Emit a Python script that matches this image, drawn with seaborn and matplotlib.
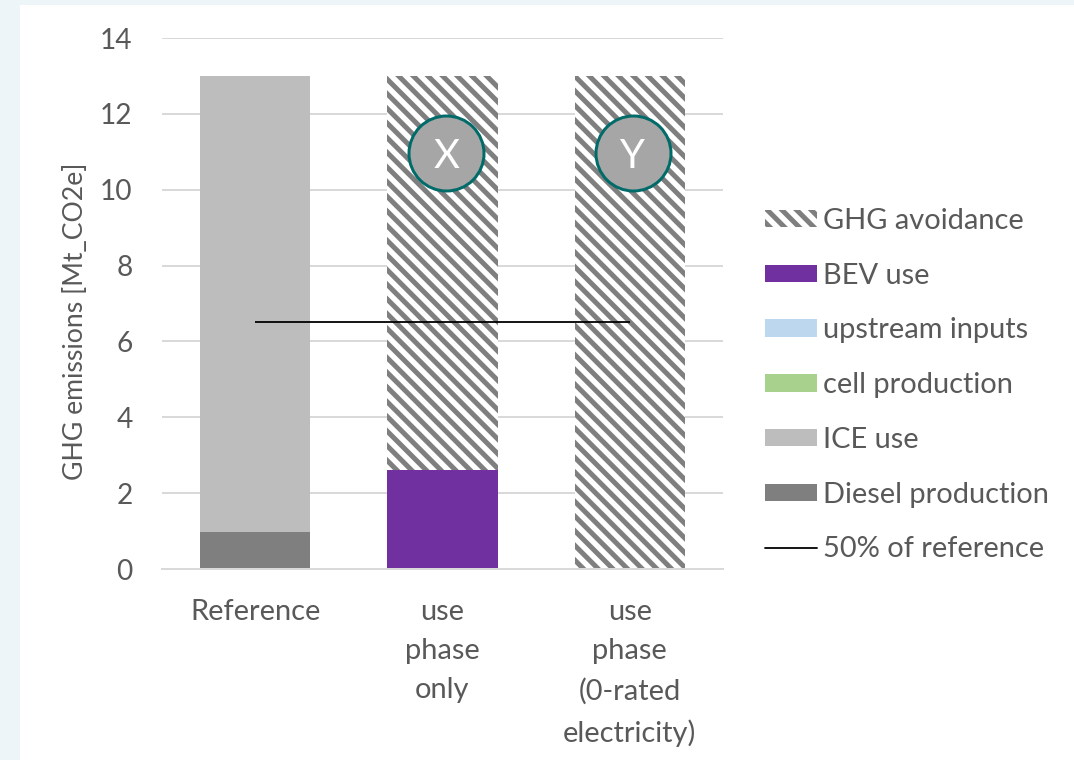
import numpy as np
import pandas as pd
import matplotlib
matplotlib.use("Agg")
import matplotlib.pyplot as plt
import seaborn as sns
from matplotlib.patches import Patch, Rectangle
from matplotlib.lines import Line2D

# ---------------- data ----------------
categories = ["Reference", "use\nphase\nonly", "use\nphase\n(0-rated\nelectricity)"]
diesel_production = [0.97, 0.0, 0.0]
ice_use = [12.03, 0.0, 0.0]
cell_production = [0.0, 0.0, 0.0]
upstream_inputs = [0.0, 0.0, 0.0]
bev_use = [0.0, 2.62, 0.0]
ghg_avoidance = [0.0, 10.38, 13.0]
reference_half = 6.5
badge_labels = ["X", "Y"]
y_ticks = [0, 2, 4, 6, 8, 10, 12, 14]

# ---------------- style ----------------
DPI = 132
W, H = 1074, 760
def pt(px):
    return px * 72.0 / DPI

TXT = "#595959"
GRID = "#D9D9D9"
C_DIESEL = "#7F7F7F"
C_ICE = "#BDBDBD"
C_CELL = "#A9D18E"
C_UP = "#BDD7EE"
C_BEV = "#7030A0"
C_HATCH = "#7F7F7F"
HATCH = "\\\\\\"

sns.set_theme(style="white")
plt.rcParams["font.family"] = ["Lato", "DejaVu Sans"]
plt.rcParams["hatch.linewidth"] = pt(5.0)
plt.rcParams["hatch.color"] = C_HATCH

fig = plt.figure(figsize=(W / DPI, H / DPI), dpi=DPI)
fig.patch.set_facecolor("#EDF5F8")
fig.add_artist(Rectangle((20 / W, 0), 1 - 20 / W, 1 - 5 / H, transform=fig.transFigure,
                         facecolor="white", edgecolor="none", zorder=0))

ax_left, ax_right = 161.5, 723.5
ax_top, ax_bot = 38, 569
ax = fig.add_axes([ax_left / W, 1 - ax_bot / H, (ax_right - ax_left) / W, (ax_bot - ax_top) / H])
ax.set_facecolor("white")
ax.set_zorder(1)

# cumulative stacks
layers = [
    ("diesel", diesel_production, C_DIESEL, None),
    ("ice", ice_use, C_ICE, None),
    ("cell", cell_production, C_CELL, None),
    ("up", upstream_inputs, C_UP, None),
    ("bev", bev_use, C_BEV, None),
    ("avoid", ghg_avoidance, "white", HATCH),
]
cum = np.zeros(len(categories))
cums = []
for name, vals, col, hatch in layers:
    cum = cum + np.array(vals, dtype=float)
    cums.append((name, cum.copy(), col, hatch))

BAR_W = 0.588
for name, vals, col, hatch in reversed(cums):
    df = pd.DataFrame({"cat": categories, "val": vals})
    kws = dict(linewidth=0)
    if hatch:
        kws.update(hatch=hatch, edgecolor=C_HATCH)
    sns.barplot(data=df, x="cat", y="val", color=col, saturation=1, width=BAR_W,
                errorbar=None, ax=ax, zorder=2, **kws)

# 50% line
ax.hlines(reference_half, 0, len(categories) - 1, color="black", lw=pt(1.8), zorder=3)

# badges
badge_x = [1.02, 2.015]
badge_y = 10.97
ax.scatter(badge_x, [badge_y] * 2, s=pt(75) ** 2, facecolor="#A6A6A6", edgecolor="#006B68",
           linewidth=pt(3), zorder=4)
for bx, lab in zip(badge_x, badge_labels):
    ax.text(bx, badge_y, lab, color="white", fontsize=pt(40), ha="center", va="center_baseline", zorder=5)

ax.set_xlim(-0.5, 2.5)
ax.set_ylim(0, 14)
ax.set_yticks(y_ticks)
ax.yaxis.grid(True, color=GRID, lw=pt(2))
ax.set_axisbelow(True)
for s in ["left", "right", "top"]:
    ax.spines[s].set_visible(False)
ax.spines["bottom"].set_color(GRID)
ax.spines["bottom"].set_linewidth(pt(2))
ax.tick_params(axis="y", length=0, pad=pt(29), labelsize=pt(28), labelcolor=TXT)
ax.tick_params(axis="x", length=0, pad=pt(30), labelsize=pt(29), labelcolor=TXT)
for lbl in ax.get_xticklabels():
    lbl.set_linespacing(1.63)
ax.set_xlabel("")
ax.set_ylabel("GHG emissions [Mt_CO2e]", fontsize=pt(26.6), color=TXT)
ax.yaxis.set_label_coords((88 - ax_left) / (ax_right - ax_left), (569 - 321) / (569 - 38))

LFS = 29
handles = [
    Patch(facecolor="white", edgecolor=C_HATCH, hatch=HATCH, lw=0, label="GHG avoidance"),
    Patch(facecolor=C_BEV, lw=0, label="BEV use"),
    Patch(facecolor=C_UP, lw=0, label="upstream inputs"),
    Patch(facecolor=C_CELL, lw=0, label="cell production"),
    Patch(facecolor=C_ICE, lw=0, label="ICE use"),
    Patch(facecolor=C_DIESEL, lw=0, label="Diesel production"),
    Line2D([0], [0], color="black", lw=pt(1.8), label="50% of reference"),
]
leg = ax.legend(handles=handles, loc="upper left", bbox_to_anchor=(765 / W, 1 - 208 / H),
                bbox_transform=fig.transFigure, frameon=False, fontsize=pt(LFS),
                handlelength=52 / LFS, handleheight=16 / LFS, handletextpad=6 / LFS,
                labelspacing=0.99, borderpad=0, borderaxespad=0)
for t in leg.get_texts():
    t.set_color(TXT)

fig.savefig("out.png", dpi=DPI)
